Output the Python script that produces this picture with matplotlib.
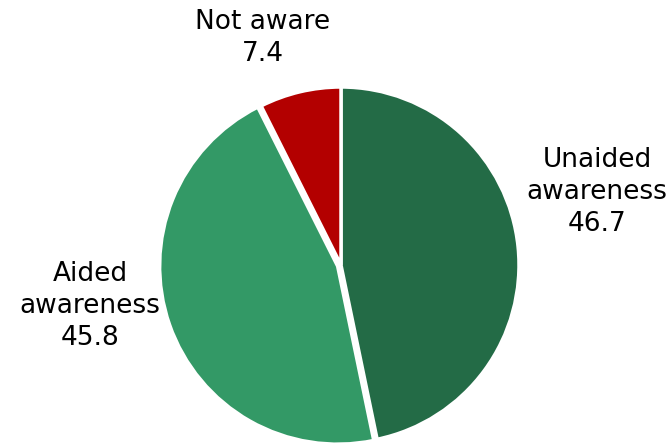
import matplotlib.pyplot as plt

# awareness shares (%)
labels = ["Unaided\nawareness", "Aided\nawareness", "Not aware"]
values = [46.7, 45.8, 7.4]
colors = ["#236B46", "#339966", "#B30000"]
explode = [0, 0.02, 0]

W, H = 669, 444
fig = plt.figure(figsize=(W / 100, H / 100), dpi=100)

# pie centre and radius in pixels
cx, cy, r = 341, 265, 178
ax = fig.add_axes([(cx - r) / W, (H - cy - r) / H, 2 * r / W, 2 * r / H])
ax.pie(values, colors=colors, startangle=90, counterclock=False,
       explode=explode, radius=1,
       wedgeprops=dict(edgecolor="white", linewidth=2.5))
ax.set_xlim(-1, 1)
ax.set_ylim(-1, 1)
ax.set_aspect("equal")
for p in ax.patches:
    p.set_clip_on(False)

# label positions (pixels, from top-left)
label_pos = [(597, 192), (90, 306), (263, 38)]
for lab, val, (x, y) in zip(labels, values, label_pos):
    fig.text(x / W, 1 - y / H, f"{lab}\n{val}", ha="center", va="center",
             multialignment="center", fontsize=19, linespacing=1.32,
             color="black")

fig.savefig("out.png", dpi=100)
